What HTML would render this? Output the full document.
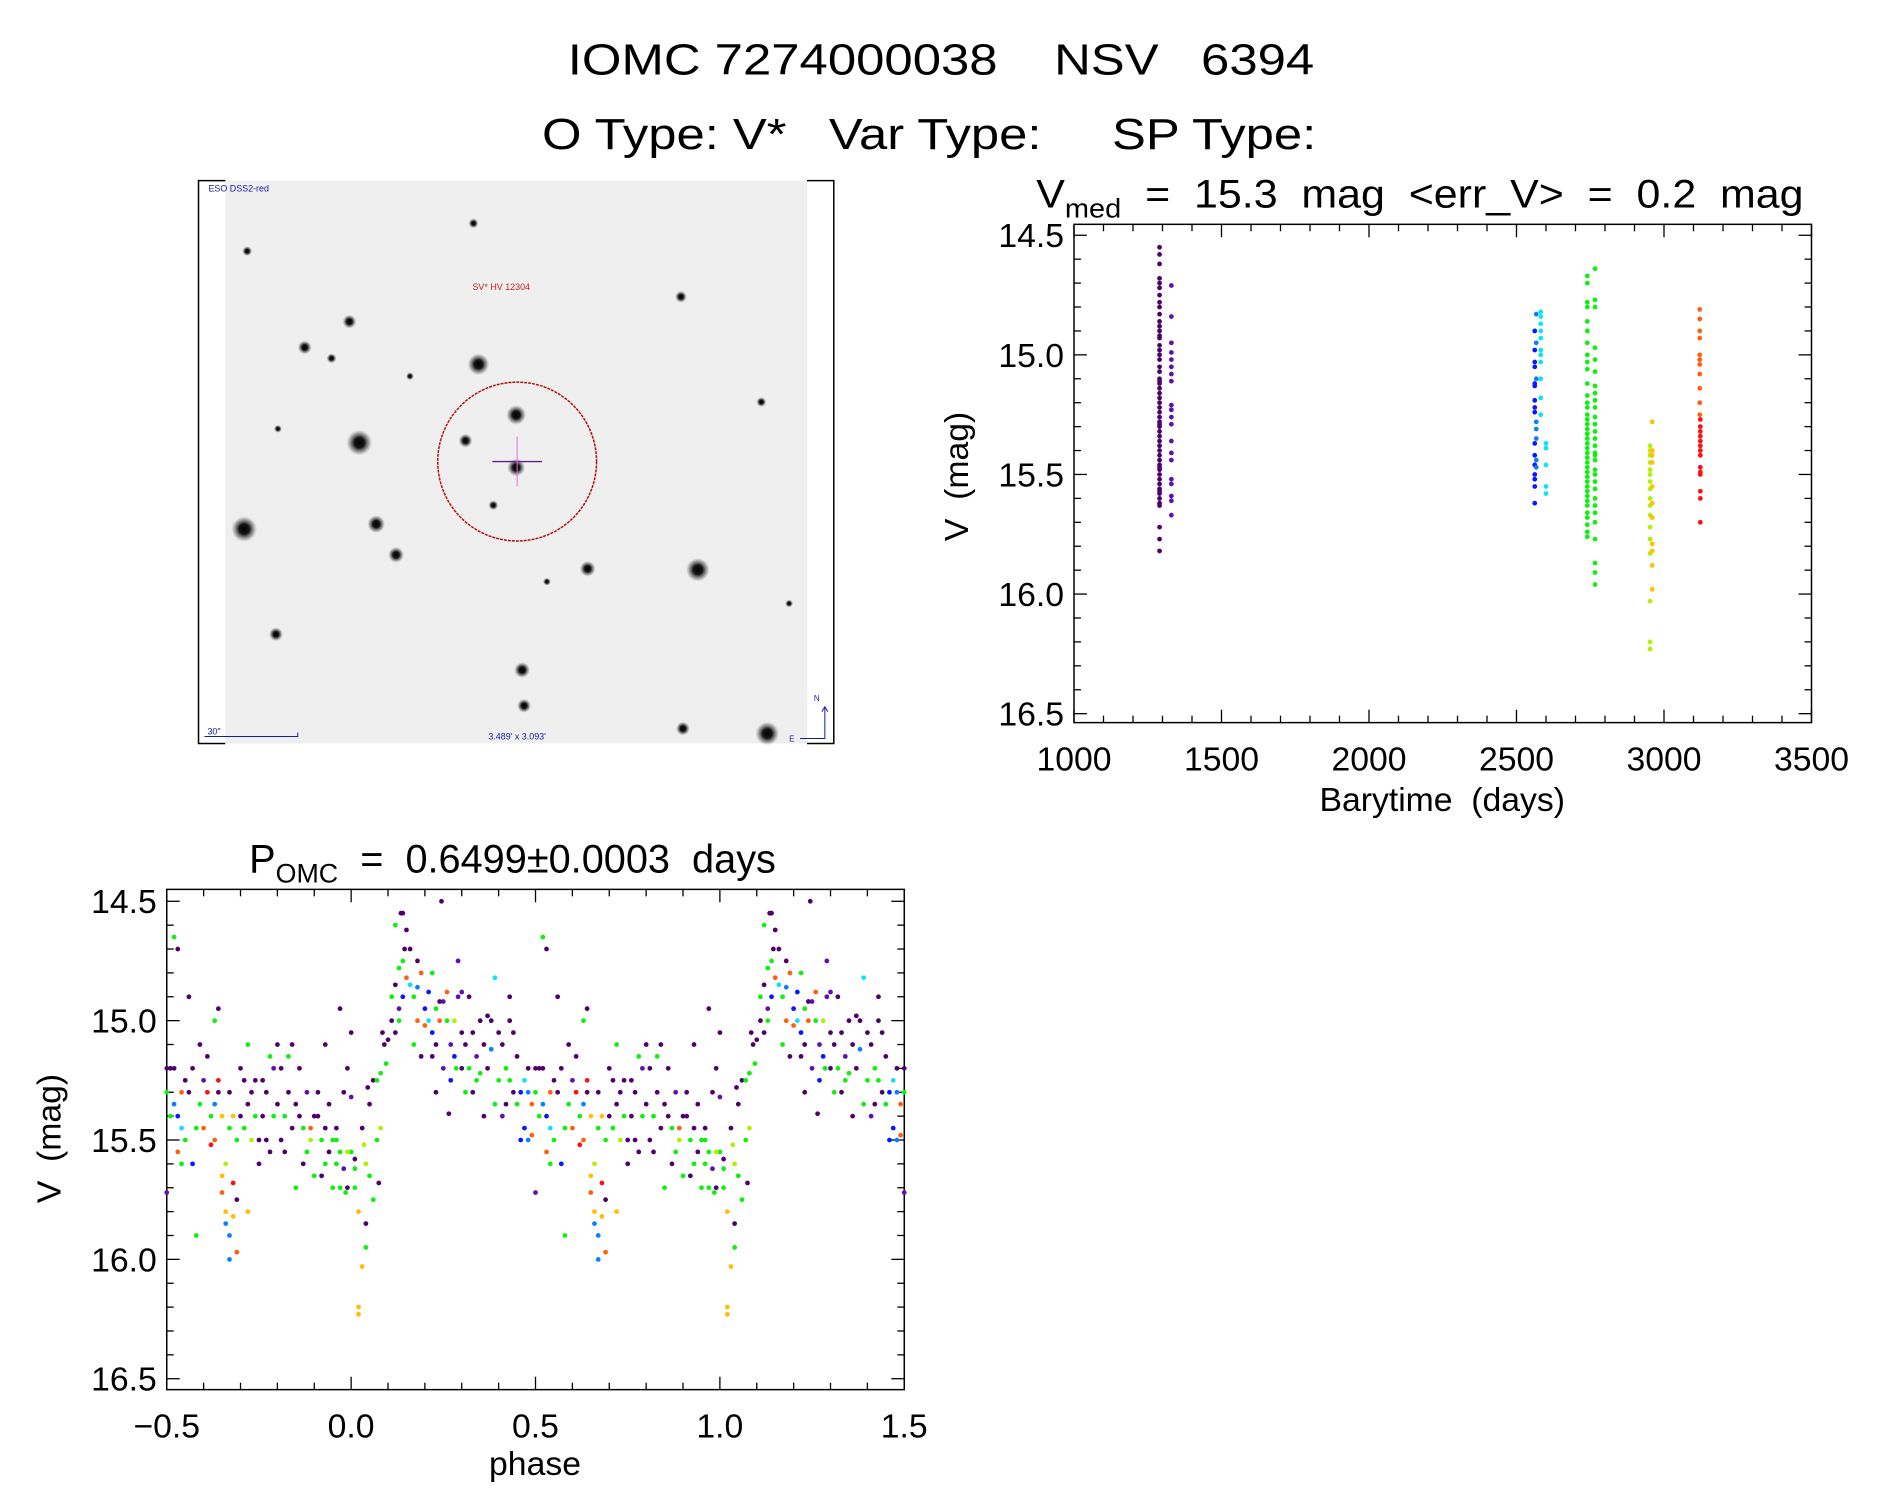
<!DOCTYPE html>
<html><head><meta charset="utf-8"><style>
html,body{margin:0;padding:0;background:#fff;}
svg{display:block;font-family:"Liberation Sans",sans-serif;}
text{white-space:pre;}
</style></head><body>
<svg id="fig" width="1889" height="1494" viewBox="0 0 1889 1494" xmlns="http://www.w3.org/2000/svg">
<defs>
<radialGradient id="star"><stop offset="0" stop-color="#000"/><stop offset="0.4" stop-color="#151515"/><stop offset="0.75" stop-color="#666" stop-opacity="0.55"/><stop offset="1" stop-color="#999" stop-opacity="0"/></radialGradient>
</defs>
<g transform="scale(0.9926)">
<text x="948" y="75" font-size="44" text-anchor="middle" textLength="752" lengthAdjust="spacingAndGlyphs" xml:space="preserve">IOMC 7274000038    NSV   6394</text>
<text x="936" y="150" font-size="44" text-anchor="middle" textLength="780" lengthAdjust="spacingAndGlyphs" xml:space="preserve">O Type: V*   Var Type:     SP Type:</text>

<g id="img">
<rect x="227" y="182" width="586" height="567" fill="#efefef"/>
<path d="M227 182H200V749H227M813 182H840V749H813" fill="none" stroke="#000" stroke-width="1.5"/>
<g id="stars"></g>
<circle cx="521" cy="465" r="80" fill="none" stroke="#b01010" stroke-width="1.5" stroke-dasharray="3 1"/>
<line x1="496" y1="465" x2="546" y2="465" stroke="#602080" stroke-width="1.5"/>
<line x1="521" y1="440" x2="521" y2="490" stroke="#e070e0" stroke-width="1"/>
<text x="210" y="193" font-size="9" fill="#1a1aa0">ESO DSS2-red</text>
<text x="476" y="292" font-size="9" fill="#c02020">SV* HV 12304</text>
<text x="492" y="745" font-size="9" fill="#1a1aa0">3.489' x 3.093'</text>
<text x="209" y="740" font-size="9" fill="#1a1aa0">30"</text>
<path d="M206 742H300V738" fill="none" stroke="#1a1aa0" stroke-width="1"/>
<path d="M831 713V744H806M828 717L831 712L834 717" fill="none" stroke="#1a1aa0" stroke-width="1"/>
<text x="820" y="706" font-size="8" fill="#1a1aa0">N</text>
<text x="795" y="747" font-size="8" fill="#1a1aa0">E</text>
</g>

<g id="tsplot"></g>
<g id="phplot"></g>
</g>
</svg>
<script>
// ---- sky image star data (pixel positions on image) ----
const starX=[477,249,352,307,334,686,482,520,362,469,520,767,246,379,399,592,703,551,278,526,528,688,773,497,795,280,413];
const starY=[225,253,324,350,361,299,367,418,446,444,471,405,533,528,559,573,574,586,639,675,711,734,739,509,608,432,379];
const starR=[5,5,7,7,5,6,11,10,13,7,9,5,13,9,8,8,12,4,7,8,7,7,12,5,4,4,4];
const SVGNS="http://www.w3.org/2000/svg";
const sg=document.getElementById('stars');
for(let i=0;i<starX.length;i++){
  const c=document.createElementNS(SVGNS,'circle');
  c.setAttribute('cx',starX[i]);c.setAttribute('cy',starY[i]);c.setAttribute('r',starR[i]);
  c.setAttribute('fill','url(#star)');
  
  
  sg.appendChild(c);
}

const COLORS=["#50006a","#6010b0","#0818ff","#0a80ff","#10e0ff","#10f010","#b0f000","#ffc000","#ff6010","#ff1010"];

// ---- time series data ----
const tsTime=[
1290,1290,1290,1290,1290,1290,1290,1290,1290,1290,1290,1290,1290,1290,1290,1290,1290,1290,1290,1290,1290,1290,1290,1290,1290,1290,1290,1290,1290,1290,1290,1290,1290,1290,1290,1290,1290,1290,1290,1290,1290,1290,1290,1290,1290,1290,1290,1290,1290,1290,1290,1290,1290,1290,1290,1290,
1330,1330,1330,1330,1330,1330,1330,1330,1330,1330,1330,1330,1330,1330,1330,1330,1330,1330,1330,1330,
2562,2562,2562,2562,2562,2562,2562,2562,2562,2562,2562,2562,2562,2562,2562,2562,2567,2567,2567,2567,2567,2567,2567,2567,
2582,2582,2582,2582,2582,2582,2582,2582,2582,2582,2582,2600,2600,2600,2600,2600,
2740,2740,2740,2740,2740,2740,2740,2740,2740,2740,2740,2740,2740,2740,2740,2740,2740,2740,2740,2740,2740,2740,2740,2740,2740,2740,2740,2740,2740,2740,2740,2740,2740,2740,2740,2740,2740,2740,2740,2740,
2766,2766,2766,2766,2766,2766,2766,2766,2766,2766,2766,2766,2766,2766,2766,2766,2766,2766,2766,2766,2766,2766,2766,2766,2766,2766,2766,2766,2766,2766,
2953,2953,2953,2953,2953,2953,2953,2953,2953,2953,2953,2953,2953,2953,2953,2953,2953,2960,2960,2960,2960,2960,2960,2960,2960,2960,2960,2960,
3121,3121,3121,3121,3121,3121,3121,3121,3121,3121,3121,3123,3123,3123,3123,3123,3123,3123,3123,3123,3123,3123,3123,3123,3123];
const tsMag=[
14.55,14.58,14.7,14.72,14.75,14.78,14.8,14.83,14.86,14.88,14.9,14.93,14.96,14.98,15.0,15.02,15.05,15.07,15.1,15.12,15.14,15.16,15.18,15.2,15.22,15.24,15.26,15.28,15.3,15.32,15.34,15.36,15.38,15.4,15.42,15.44,15.46,15.48,15.5,15.52,15.54,15.56,15.58,15.6,15.62,15.63,15.72,15.77,15.82,14.62,14.68,14.92,15.11,15.29,15.47,15.57,
14.71,14.84,14.95,14.99,15.02,15.05,15.08,15.11,15.21,15.23,15.26,15.29,15.36,15.41,15.44,15.52,15.54,15.59,15.61,15.67,
14.9,14.98,15.03,15.05,15.12,15.13,15.19,15.22,15.24,15.37,15.42,15.46,15.5,15.52,15.55,15.62,14.83,14.95,15.1,15.28,15.31,15.35,15.44,15.47,
14.82,14.84,14.87,14.9,14.93,14.98,15.0,15.03,15.1,15.18,15.25,15.37,15.39,15.46,15.55,15.58,
14.67,14.7,14.78,14.8,14.86,14.9,14.95,15.0,15.03,15.06,15.12,15.17,15.2,15.22,15.25,15.27,15.29,15.31,15.33,15.35,15.37,15.39,15.41,15.43,15.45,15.47,15.49,15.51,15.53,15.55,15.57,15.59,15.61,15.63,15.66,15.68,15.71,15.74,15.76,15.33,
14.64,14.77,14.8,14.97,15.02,15.07,15.13,15.19,15.22,15.26,15.29,15.32,15.35,15.38,15.41,15.44,15.48,15.5,15.53,15.56,15.6,15.63,15.66,15.7,15.77,15.87,15.91,15.96,15.42,15.16,
15.38,15.4,15.42,15.45,15.48,15.5,15.53,15.56,15.6,15.63,15.67,15.72,15.77,15.83,16.03,16.2,16.23,15.28,15.4,15.42,15.45,15.55,15.62,15.68,15.79,15.82,15.88,15.98,
14.81,14.85,14.9,14.93,15.0,15.02,15.04,15.08,15.14,15.2,15.25,15.27,15.3,15.32,15.34,15.36,15.38,15.4,15.42,15.47,15.49,15.5,15.57,15.6,15.7];
const tsColor=[
0,0,0,0,0,0,0,0,0,0,0,0,0,0,0,0,0,0,0,0,0,0,0,0,0,0,0,0,0,0,0,0,0,0,0,0,0,0,0,0,0,0,0,0,0,0,0,0,0,0,0,0,0,0,0,0,
1,1,1,1,1,1,1,1,1,1,1,1,1,1,1,1,1,1,1,1,
2,2,2,2,2,2,2,2,2,2,2,2,2,2,2,2,3,3,3,3,3,3,3,3,
4,4,4,4,4,4,4,4,4,4,4,4,4,4,4,4,
5,5,5,5,5,5,5,5,5,5,5,5,5,5,5,5,5,5,5,5,5,5,5,5,5,5,5,5,5,5,5,5,5,5,5,5,5,5,5,5,
5,5,5,5,5,5,5,5,5,5,5,5,5,5,5,5,5,5,5,5,5,5,5,5,5,5,5,5,5,5,
6,6,6,6,6,6,6,6,6,6,6,6,6,6,6,6,6,7,7,7,7,7,7,7,7,7,7,7,
8,8,8,8,8,8,8,8,8,8,8,9,9,9,9,9,9,9,9,9,9,9,9,9,9];
const tsXTicks=[1000,1500,2000,2500,3000,3500];
const tsYTicks=[14.5,15.0,15.5,16.0,16.5];

// ---- phase data (phase in [0,1), folded copies drawn) ----
const phPhase=[0.00,0.01,0.02,0.02,0.01,0.03,0.00,0.04,0.04,0.03,0.02,0.05,0.01,0.045,0.05,0.035,0.04,0.0,
0.06,0.07,0.08,0.07,0.09,0.08,0.06,0.085,0.095,0.075,0.1,
0.11,0.12,0.13,0.11,0.14,0.12,0.135,0.14,0.13,0.145,0.12,0.13,0.15,0.14,
0.16,0.17,0.18,0.19,0.18,0.17,0.16,0.2,0.19,0.15,0.2,0.18,
0.21,0.22,0.23,0.24,0.22,0.25,0.21,0.23,0.25,0.24,0.22,0.245,0.23,
0.26,0.27,0.28,0.29,0.3,0.27,0.28,0.26,0.3,0.29,0.265,0.285,
0.31,0.32,0.33,0.34,0.35,0.32,0.34,0.33,0.35,0.31,0.3,
0.36,0.37,0.38,0.39,0.4,0.37,0.36,0.39,0.38,0.4,
0.41,0.42,0.43,0.44,0.45,0.42,0.44,0.43,0.41,0.45,0.43,
0.46,0.47,0.48,0.49,0.5,0.47,0.48,0.46,0.49,0.5,0.48,0.5,
0.51,0.52,0.53,0.54,0.52,0.54,0.55,0.53,0.55,0.51,0.54,0.52,0.53,
0.56,0.57,0.58,0.59,0.6,0.57,0.58,0.56,0.6,0.59,
0.61,0.62,0.63,0.64,0.65,0.62,0.63,0.64,0.65,0.61,0.63,0.65,0.64,
0.66,0.66,0.67,0.67,0.68,0.69,0.66,0.67,0.68,0.69,0.7,0.67,0.68,0.7,0.69,
0.71,0.72,0.73,0.74,0.75,0.72,0.73,0.71,0.74,0.75,0.72,
0.76,0.77,0.78,0.79,0.8,0.77,0.78,0.76,0.8,0.79,
0.81,0.82,0.83,0.84,0.85,0.82,0.83,0.84,0.85,0.81,
0.86,0.87,0.88,0.89,0.9,0.87,0.88,0.86,0.9,0.89,
0.91,0.92,0.93,0.94,0.95,0.92,0.93,0.91,0.95,0.94,0.93,
0.96,0.97,0.98,0.99,0.96,0.97,0.98,0.99,0.97,0.96,0.985,0.99];
const phMag=[15.55,15.62,16.2,16.23,15.58,15.45,15.32,15.6,15.85,16.03,15.8,15.35,15.7,15.28,15.65,15.52,15.95,15.05,
15.25,15.5,15.45,15.25,15.1,15.22,15.75,15.05,15.18,15.68,15.08,
14.9,14.85,14.78,15.0,14.75,14.6,14.55,14.9,14.95,14.7,15.05,15.0,14.82,14.55,
14.85,14.9,14.75,14.8,15.0,15.1,14.7,14.95,15.15,14.62,15.02,14.86,
15.0,15.05,14.95,15.0,15.15,14.92,14.88,15.1,15.2,14.92,14.8,14.5,15.3,
15.0,15.1,15.15,14.9,15.05,15.25,15.0,14.88,15.2,14.75,15.39,15.2,
15.1,15.2,15.05,15.25,15.0,14.9,15.15,15.3,15.22,15.3,14.88,
15.1,15.2,15.12,15.35,15.05,14.98,15.4,14.82,15.0,15.25,
15.1,15.2,15.0,15.3,15.15,15.35,15.05,15.25,15.4,15.35,14.9,
15.3,15.25,15.3,15.35,15.3,15.45,15.5,15.5,15.48,15.2,15.2,15.72,
15.4,15.35,15.4,15.45,14.65,15.3,15.25,15.55,15.5,15.2,15.6,15.2,14.7,
15.3,15.2,15.45,15.35,15.45,15.6,15.9,14.9,15.25,15.1,
15.3,15.4,15.35,15.25,15.4,15.52,15.0,14.95,15.65,15.15,15.5,15.72,15.3,
15.8,15.85,15.9,16.0,15.82,15.75,15.6,15.45,15.4,15.5,15.4,15.3,15.68,15.2,15.97,
15.45,15.35,15.5,15.25,15.5,15.1,15.3,15.25,15.4,15.6,15.8,
15.4,15.3,15.15,15.4,15.35,15.5,15.55,15.25,15.1,15.2,
15.2,15.4,15.3,15.45,15.35,15.55,15.15,15.1,15.7,15.5,
15.4,15.45,15.3,15.5,15.4,15.6,15.55,15.2,15.65,15.45,
15.4,15.5,15.45,15.55,15.5,15.65,15.6,15.3,15.7,15.35,15.1,
15.6,15.55,15.62,15.7,15.45,15.7,15.3,15.55,14.95,15.5,15.72,15.2];
const phColor=[5,5,7,7,0,0,1,6,0,7,7,0,5,0,5,6,5,0,
0,5,6,5,0,5,5,0,5,0,0,
5,0,5,0,5,5,0,2,1,0,0,5,8,0,
4,5,0,8,8,5,0,2,0,0,8,3,
4,2,5,8,0,1,2,0,1,0,5,0,0,
5,1,2,1,0,2,6,8,0,1,0,5,
0,5,0,5,0,0,1,0,5,5,1,
0,0,3,5,0,0,0,4,0,5,
0,5,0,0,0,0,0,5,1,5,0,
2,4,3,8,5,2,3,2,8,0,0,1,
5,3,2,4,5,8,0,8,5,0,5,0,0,
0,0,5,5,8,2,5,0,1,0,
9,5,3,9,7,9,5,0,7,0,8,8,0,
7,3,3,3,7,0,6,5,7,5,0,0,9,0,8,
5,0,6,0,0,5,0,0,5,0,7,
0,0,5,5,0,0,0,0,0,1,
0,5,0,0,0,0,5,0,5,0,
0,5,1,6,0,0,5,0,5,8,
0,5,0,0,5,0,5,0,5,0,0,
5,5,1,0,0,5,0,6,0,5,5,0];
const phXTicks=[-0.5,0.0,0.5,1.0,1.5];
const phYTicks=[14.5,15.0,15.5,16.0,16.5];

function el(tag,attrs,parent){const e=document.createElementNS(SVGNS,tag);for(const k in attrs)e.setAttribute(k,attrs[k]);parent.appendChild(e);return e;}

function axes(g,box,xs,ys,xt,yt,xMinorStep,yMinorStep,xFmt,prefix){
  el('rect',{x:box.l,y:box.t,width:box.r-box.l,height:box.b-box.t,fill:'none',stroke:'#000','stroke-width':1.5},g);
  const ticks=el('g',{stroke:'#000','stroke-width':1.3},g);
  
  
  const x0=xt[0],x1=xt[xt.length-1];
  for(let v=x0,i=0;v<=x1+1e-9;i++,v=x0+i*xMinorStep){
    const major=Math.abs((v-x0)/ (xt[1]-xt[0]) - Math.round((v-x0)/(xt[1]-xt[0])))<1e-6;
    const L=major?13:7;const x=xs(v);
    el('line',{x1:x,x2:x,y1:box.b,y2:box.b-L},ticks);
    el('line',{x1:x,x2:x,y1:box.t,y2:box.t+L},ticks);
  }
  const y0=yt[0],y1=yt[yt.length-1];
  for(let v=y0,i=0;v<=y1+1e-9;i++,v=y0+i*yMinorStep){
    const major=Math.abs((v-y0)/(yt[1]-yt[0])-Math.round((v-y0)/(yt[1]-yt[0])))<1e-6;
    const L=major?13:7;const y=ys(v);
    el('line',{x1:box.l,x2:box.l+L,y1:y,y2:y},ticks);
    el('line',{x1:box.r,x2:box.r-L,y1:y,y2:y},ticks);
  }
  for(const v of xt){
    const t=el('text',{x:xs(v),y:box.b+48,'font-size':34,'text-anchor':'middle'},g);
    t.textContent=xFmt(v).replace('-','\u2212');
    
    
  }
  for(const v of yt){
    const t=el('text',{x:box.l-10,y:ys(v)+12,'font-size':34,'text-anchor':'end'},g);
    t.textContent=v.toFixed(1);
    
    
  }
}
function dot(g,x,y,c,name){
  const d=el('circle',{cx:x.toFixed(1),cy:y.toFixed(1),r:2.4,fill:COLORS[c]},g);
  
  
}

// time series plot
(function(){
  const g=document.getElementById('tsplot');
  const box={l:1082,r:1825,t:226,b:728};
  const xs=v=>1082+(v-1000)*(1825-1082)/2500;
  const ys=v=>237+(v-14.5)*(719-237)/2;
  axes(g,box,xs,ys,tsXTicks,tsYTicks,100,0.1,v=>String(v),'ts');
  const pts=el('g',{},g);
  
  
  for(let i=0;i<tsTime.length;i++) dot(pts,xs(tsTime[i]),ys(tsMag[i]),tsColor[i],'ts-point');
  const t1=el('text',{x:1044,y:209,'font-size':40},g);
  t1.innerHTML='V<tspan font-size="27" dy="10">med</tspan><tspan dy="-10">  =  15.3  mag  &lt;err_V&gt;  =  0.2  mag</tspan>';
  t1.setAttribute('textLength','773');
  t1.setAttribute('lengthAdjust','spacingAndGlyphs');
  
  
  const xl=el('text',{x:1453,y:817,'font-size':34,'text-anchor':'middle'},g);xl.textContent='Barytime  (days)';
  
  
  const yl=el('text',{x:0,y:0,'font-size':34,'text-anchor':'middle',transform:'translate(975,480) rotate(-90)'},g);yl.textContent='V  (mag)';
  
  
})();

// phase plot
(function(){
  const g=document.getElementById('phplot');
  const box={l:168,r:911,t:896,b:1400};
  const xs=v=>168+(v+0.5)*(911-168)/2;
  const ys=v=>908+(v-14.5)*(1389-908)/2;
  axes(g,box,xs,ys,phXTicks,phYTicks,0.1,0.1,v=>v.toFixed(1),'ph');
  const pts=el('g',{},g);
  
  
  for(let i=0;i<phPhase.length;i++){
    for(const off of [-1,0,1]){
      const p=phPhase[i]+off;
      if(p<-0.5||p>1.5)continue;
      dot(pts,xs(p),ys(phMag[i]),phColor[i],'phase-point');
    }
  }
  const t1=el('text',{x:251,y:879,'font-size':40},g);
  t1.innerHTML='P<tspan font-size="27" dy="10">OMC</tspan><tspan dy="-10">  =  0.6499\u00b10.0003  days</tspan>';
  
  
  const xl=el('text',{x:539,y:1486,'font-size':34,'text-anchor':'middle'},g);xl.textContent='phase';
  
  
  const yl=el('text',{x:0,y:0,'font-size':34,'text-anchor':'middle',transform:'translate(61,1147) rotate(-90)'},g);yl.textContent='V  (mag)';
  
  
})();
</script>
</body></html>
